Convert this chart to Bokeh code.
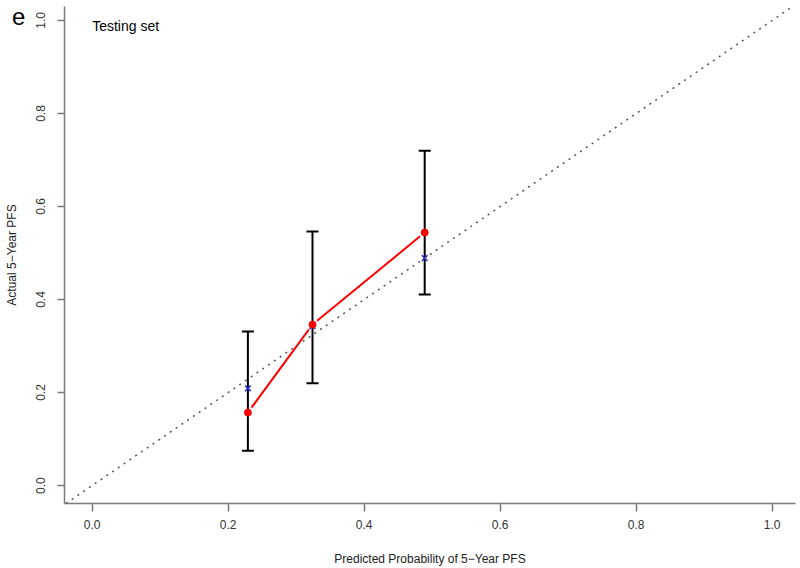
import numpy as np
from bokeh.plotting import figure
from bokeh.layouts import column
from bokeh.models import Range1d, FixedTicker, Label, Whisker, TeeHead, ColumnDataSource, Slope, Div
from bokeh.embed import file_html
from bokeh.resources import INLINE

# ---- data ----
predicted = [0.229, 0.324, 0.489]
observed = [0.157, 0.346, 0.544]
corrected = [0.209, 0.343, 0.489]
upper = [0.331, 0.546, 0.720]
lower = [0.075, 0.220, 0.411]
tick_values = [0.0, 0.2, 0.4, 0.6, 0.8, 1.0]
tick_labels = ["0.0", "0.2", "0.4", "0.6", "0.8", "1.0"]
panel_letter = "e"
subtitle = "Testing set"

FONT = "Liberation Sans"
X0, X1 = -0.0407, 1.0343
Y0, Y1 = -0.0386, 1.0300
W, H = 800, 568
ML, MR, MT, MB = 64, 5, 6, 64

p = figure(width=W, height=H, output_backend="svg", toolbar_location=None,
           x_range=Range1d(X0, X1), y_range=Range1d(Y0, Y1),
           min_border_left=ML, min_border_right=MR, min_border_top=MT, min_border_bottom=MB)
p.grid.visible = False
p.outline_line_color = None
p.background_fill_color = "white"
p.border_fill_color = "white"

for ax in (p.xaxis[0], p.yaxis[0]):
    ax.ticker = FixedTicker(ticks=tick_values)
    ax.major_label_overrides = {v: l for v, l in zip(tick_values, tick_labels)}
    ax.minor_tick_line_color = None
    ax.major_tick_in = 0
    ax.axis_line_color = "#7a7a7a"
    ax.axis_line_width = 1.5
    ax.major_tick_line_color = "#7a7a7a"
    ax.major_tick_line_width = 1.5
    ax.major_label_text_font = FONT
    ax.major_label_text_font_size = "12px"
    ax.major_label_text_color = "#333333"
    ax.axis_label_text_font = FONT
    ax.axis_label_text_font_size = "12px"
    ax.axis_label_text_font_style = "normal"
    ax.axis_label_text_color = "#222222"

p.xaxis.axis_label = "Predicted Probability of 5\u2212Year PFS"
p.yaxis.axis_label = "Actual 5\u2212Year PFS"
p.xaxis.major_tick_out = 8
p.xaxis.major_label_standoff = 8
p.xaxis.axis_label_standoff = 20
p.yaxis.major_tick_out = 7
p.yaxis.major_label_standoff = 12
p.yaxis.axis_label_standoff = 15
p.yaxis.major_label_orientation = "vertical"

# ideal diagonal
p.add_layout(Slope(gradient=1, y_intercept=0, line_color="#555555",
                   line_width=1.5, line_dash="2 5"))

# error bars
src = ColumnDataSource(dict(x=predicted, obs=observed, lo=lower, hi=upper, corr=corrected))
p.add_layout(Whisker(source=src, base="x", upper="hi", lower="lo",
                     line_color="black", line_width=2,
                     upper_head=TeeHead(size=12, line_color="black", line_width=2),
                     lower_head=TeeHead(size=12, line_color="black", line_width=2)))

# red line with gaps near points (type "b")
pxu = (W - ML - MR) / (X1 - X0)
pyu = (H - MB - MT) / (Y1 - Y0)
gap = 6.0
sx0, sy0, sx1, sy1 = [], [], [], []
for i in range(len(predicted) - 1):
    ax_, ay_ = predicted[i] * pxu, observed[i] * pyu
    bx_, by_ = predicted[i + 1] * pxu, observed[i + 1] * pyu
    d = np.hypot(bx_ - ax_, by_ - ay_)
    ux, uy = (bx_ - ax_) / d, (by_ - ay_) / d
    sx0.append((ax_ + ux * gap) / pxu); sy0.append((ay_ + uy * gap) / pyu)
    sx1.append((bx_ - ux * gap) / pxu); sy1.append((by_ - uy * gap) / pyu)
p.segment(sx0, sy0, sx1, sy1, line_color="#ff0000", line_width=2)

p.scatter("x", "corr", source=src, marker="x", size=8, line_color="#2222dd", line_width=1.5)
p.scatter("x", "obs", source=src, marker="circle", size=7, fill_color="#ff0000", line_color="#ff0000")

p.add_layout(Label(x=0.0, y=0.987, text=subtitle, text_font=FONT, text_font_size="14px",
                   text_color="black", text_baseline="alphabetic", text_align="left"))

# panel letter lies outside the frame: an overlaid Div on top of the figure's corner
letter = Div(text=panel_letter, width=40, height=32, margin=(-H, 0, 0, 0),
             styles={"font-family": FONT, "font-size": "24px", "line-height": "24px",
                     "padding-left": "12px", "padding-top": "5px", "color": "black",
                     "background": "transparent"})
layout = column(p, letter, spacing=0)

open("out.html", "w").write(file_html(layout, INLINE))
